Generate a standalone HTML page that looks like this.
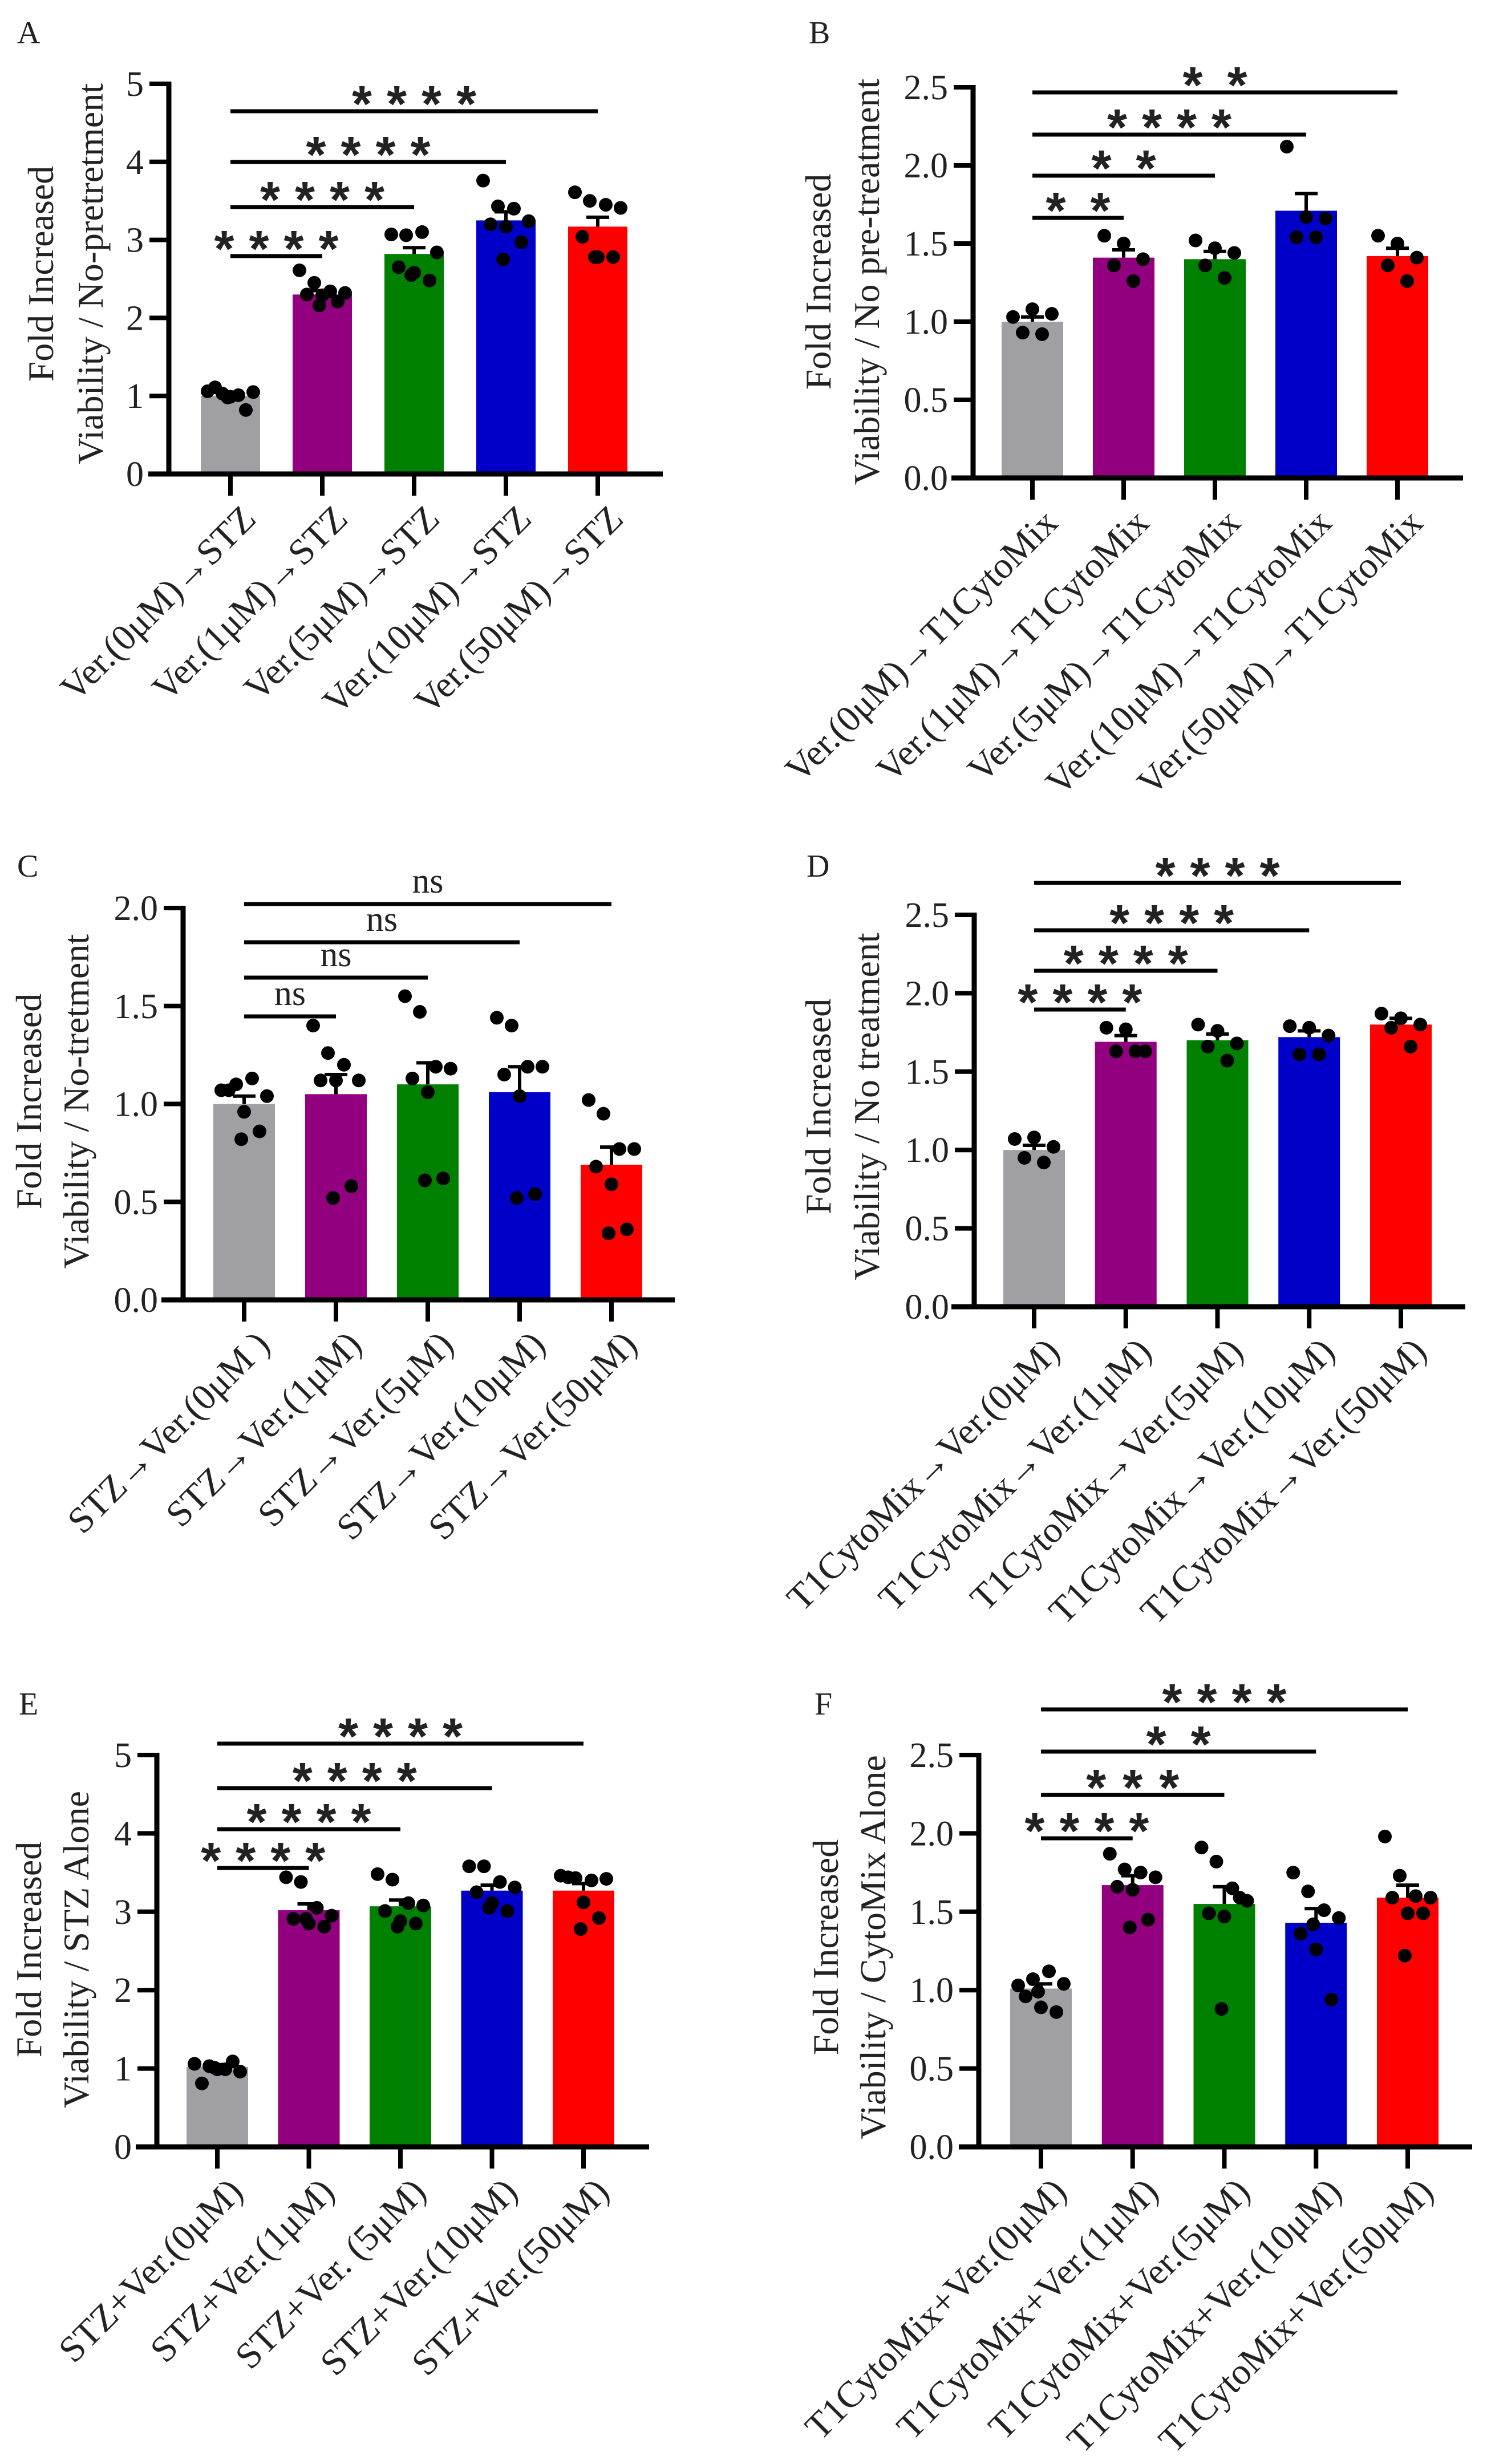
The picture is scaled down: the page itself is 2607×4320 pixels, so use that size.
<!DOCTYPE html>
<html><head><meta charset="utf-8">
<style>
html,body{margin:0;padding:0;background:#fff;}
svg{display:block;}
text{font-family:"Liberation Serif",serif;fill:#222;}
</style></head>
<body>
<svg id="fig" width="2607" height="4320" viewBox="0 0 2607 4320" xmlns="http://www.w3.org/2000/svg"></svg>
<script>
// ---------- DATA ----------
const colors = ["#a0a0a4","#920080","#008000","#0000c8","#ff0000"];

const A_categories = ["Ver.(0μM)→STZ","Ver.(1μM)→STZ","Ver.(5μM)→STZ","Ver.(10μM)→STZ","Ver.(50μM)→STZ"];
const A_means = [1.0, 2.30, 2.82, 3.25, 3.17];
const A_errors = [0.03, 0.05, 0.08, 0.11, 0.12];
const A_points = [
  [1.06,1.03,1.01,1.05,1.11,0.99,0.82,0.98],
  [2.61,2.45,2.34,2.32,2.30,2.29,2.21,2.16],
  [3.07,3.06,3.10,2.84,2.65,2.58,2.48,2.55],
  [3.76,3.43,3.40,3.24,3.20,3.17,2.97,2.75],
  [3.61,3.50,3.45,3.41,3.04,2.78,2.78,2.78]];
const A_ticks = [0,1,2,3,4,5];
const A_sig = ["****","****","****","****"];

const B_categories = ["Ver.(0μM)→T1CytoMix","Ver.(1μM)→T1CytoMix","Ver.(5μM)→T1CytoMix","Ver.(10μM)→T1CytoMix","Ver.(50μM)→T1CytoMix"];
const B_means = [1.0, 1.41, 1.40, 1.71, 1.42];
const B_errors = [0.03, 0.05, 0.05, 0.11, 0.05];
const B_points = [
  [1.03,1.08,1.05,0.93,0.92],
  [1.55,1.50,1.40,1.36,1.26],
  [1.52,1.47,1.44,1.36,1.28],
  [2.12,1.67,1.66,1.54,1.54],
  [1.55,1.50,1.41,1.36,1.26]];
const B_ticks = [0,0.5,1.0,1.5,2.0,2.5];
const B_sig = ["**","**","****","**"];

const C_categories = ["STZ→Ver.(0μM )","STZ→Ver.(1μM)","STZ→Ver.(5μM)","STZ→Ver.(10μM)","STZ→Ver.(50μM)"];
const C_means = [1.0, 1.05, 1.10, 1.06, 0.69];
const C_errors = [0.04, 0.10, 0.11, 0.13, 0.09];
const C_points = [
  [1.07,1.10,1.13,1.04,1.07,0.96,0.86,0.82],
  [1.40,1.26,1.20,1.12,1.12,1.12,0.58,0.52],
  [1.55,1.47,1.19,1.18,1.13,1.06,0.62,0.61],
  [1.44,1.40,1.19,1.19,1.15,1.04,0.54,0.52],
  [1.02,0.95,0.77,0.77,0.68,0.59,0.36,0.34]];
const C_ticks = [0,0.5,1.0,1.5,2.0];
const C_sig = ["ns","ns","ns","ns"];

const D_categories = ["T1CytoMix→Ver.(0μM)","T1CytoMix→Ver.(1μM)","T1CytoMix→Ver.(5μM)","T1CytoMix→Ver.(10μM)","T1CytoMix→Ver.(50μM)"];
const D_means = [1.0, 1.69, 1.70, 1.72, 1.80];
const D_errors = [0.03, 0.04, 0.04, 0.04, 0.04];
const D_points = [
  [1.07,1.08,1.02,0.95,0.92],
  [1.78,1.77,1.63,1.63,1.63],
  [1.80,1.76,1.68,1.66,1.57],
  [1.79,1.78,1.73,1.61,1.61],
  [1.87,1.84,1.80,1.78,1.66]];
const D_ticks = [0,0.5,1.0,1.5,2.0,2.5];
const D_sig = ["****","****","****","****"];

const E_categories = ["STZ+Ver.(0μM)","STZ+Ver.(1μM)","STZ+Ver. (5μM)","STZ+Ver.(10μM)","STZ+Ver.(50μM)"];
const E_means = [1.02, 3.02, 3.07, 3.27, 3.27];
const E_errors = [0.03, 0.08, 0.08, 0.07, 0.09];
const E_points = [
  [1.06,1.03,0.99,0.96,0.81,0.99,1.09,1.01],
  [3.44,3.38,3.05,2.95,2.91,2.85,2.81,2.91],
  [3.48,3.41,3.11,3.08,3.01,2.88,2.85,2.81],
  [3.58,3.58,3.38,3.31,3.25,3.11,3.01,3.05],
  [3.46,3.43,3.40,3.42,3.44,3.12,2.92,2.78]];
const E_ticks = [0,1,2,3,4,5];
const E_sig = ["****","****","****","****"];

const F_categories = ["T1CytoMix+Ver.(0μM)","T1CytoMix+Ver.(1μM)","T1CytoMix+Ver.(5μM)","T1CytoMix+Ver.(10μM)","T1CytoMix+Ver.(50μM)"];
const F_means = [1.01, 1.67, 1.55, 1.43, 1.59];
const F_errors = [0.03, 0.06, 0.11, 0.09, 0.08];
const F_points = [
  [1.03,1.07,1.12,1.04,0.96,0.89,0.86,0.99],
  [1.87,1.77,1.75,1.72,1.66,1.64,1.45,1.40],
  [1.91,1.82,1.65,1.57,1.49,1.47,1.59,0.88],
  [1.75,1.63,1.51,1.46,1.36,1.26,0.94,1.42],
  [1.98,1.73,1.60,1.59,1.59,1.49,1.49,1.22]];
const F_ticks = [0,0.5,1.0,1.5,2.0,2.5];
const F_sig = ["****","***","**","****"];

// ---------- LAYOUT ----------
const NS = "http://www.w3.org/2000/svg";
const svg = document.getElementById("fig");
function mk(tag, attrs, parent){
  const e = document.createElementNS(NS, tag);
  for (const k in attrs) e.setAttribute(k, attrs[k]);
  (parent||svg).appendChild(e);
  return e;
}
const jit8 = [-40,-14,14,40,-27,0,27,-5];
const jit5 = [-34,0,34,-17,17];

function panel(L, cats, means, errs, pts, ticks, sig){
  const g = mk("g", {});
  
  
  const yMax = ticks[ticks.length-1];
  const yS = v => L.y0 - (v / yMax) * (L.y0 - L.yTop);
  const xS = i => L.c0 + L.step * i;

  const letter = mk("text", {x:L.lx, y:L.ly, "font-size":56}, g);
  letter.textContent = L.id;
  
  

  // bars
  for (let i=0;i<means.length;i++){
    const r = mk("rect", {x:xS(i)-L.bw/2, y:yS(means[i]), width:L.bw, height:L.y0-yS(means[i]), fill:colors[i]}, g);
    
    
  }
  // error bars
  for (let i=0;i<means.length;i++){
    const yt = yS(means[i]+errs[i]);
    const eb = mk("path", {d:`M${xS(i)} ${yS(means[i])}V${yt}M${xS(i)-20} ${yt}H${xS(i)+20}`, stroke:"#000", "stroke-width":6, fill:"none"}, g);
    
    
  }
  // dots
  for (let i=0;i<pts.length;i++){
    const jit = pts[i].length>5 ? jit8 : jit5;
    for (let j=0;j<pts[i].length;j++){
      const c = mk("circle", {cx:xS(i)+jit[j], cy:yS(pts[i][j]), r:12, fill:"#000"}, g);
      
      
    }
  }
  // axes
  const ya = mk("line", {x1:L.ax, y1:L.yTop-4, x2:L.ax, y2:L.y0, stroke:"#000", "stroke-width":9}, g);
  
  
  const xa = mk("line", {x1:L.xa0, y1:L.y0, x2:L.xa1, y2:L.y0, stroke:"#000", "stroke-width":9}, g);
  
  
  for (const t of ticks){
    const tk = mk("line", {x1:L.ax-34, y1:yS(t), x2:L.ax, y2:yS(t), stroke:"#000", "stroke-width":8}, g);
    
    
    const tl = mk("text", {x:L.ax-44, y:yS(t)+21, "font-size":62, "text-anchor":"end", fill:"#333"}, g);
    tl.textContent = L.dec ? t.toFixed(1) : String(t);
    
    
  }
  for (let i=0;i<cats.length;i++){
    const tk = mk("line", {x1:xS(i), y1:L.y0, x2:xS(i), y2:L.y0+38, stroke:"#000", "stroke-width":8}, g);
    
    
    const ax = xS(i)+48, ay = L.y0+82;
    const tl = mk("text", {x:ax, y:ay, "font-size":65, "text-anchor":"end", transform:`rotate(-45 ${ax} ${ay})`, fill:"#333"}, g);
    tl.textContent = cats[i];
    
    
  }
  // y title
  const tcy = L.tcy;
  const t1 = mk("text", {x:L.t1x+22, y:tcy, "font-size":64, "text-anchor":"middle", transform:`rotate(-90 ${L.t1x+22} ${tcy})`, fill:"#333"}, g);
  t1.textContent = "Fold Increased";
  
  
  const t2 = mk("text", {x:L.t2x+22, y:tcy, "font-size":64, "text-anchor":"middle", transform:`rotate(-90 ${L.t2x+22} ${tcy})`, fill:"#333"}, g);
  t2.textContent = L.title2;
  
  

  // significance brackets (comparison of bar 0 vs bar k+1)
  for (let k=0;k<sig.length;k++){
    const by = L.brY[k];
    const x0 = xS(0), x1 = xS(k+1);
    const bl = mk("line", {x1:x0, y1:by, x2:x1, y2:by, stroke:"#000", "stroke-width":7}, g);
    
    
    const mid = (x0+x1)/2;
    const s = sig[k];
    if (s === "ns"){
      const t = mk("text", {x:mid, y:by-20, "font-size":62, "text-anchor":"middle", fill:"#333"}, g);
      t.textContent = "ns";
      
      
    } else {
      const n = s.length;
      const sp = n===2 ? 78 : (n===3 ? 64 : 61);
      const st = mk("text", {x:mid, y:by-34+52, "font-size":90, "text-anchor":"middle", "font-weight":"bold", fill:"#111", style:"font-family:'Liberation Sans',sans-serif"}, g);
      
      
      for (let q=0;q<n;q++){
        const ts = mk("tspan", {x:mid + (q-(n-1)/2)*sp}, st);
        ts.textContent = "*";
      }
    }
  }
}

panel({id:"A", lx:30, ly:76, ax:296, y0:831, yTop:147, xa0:260, xa1:1162, c0:404, step:161, bw:104, dec:false,
  t1x:71, t2x:158, tcy:480, title2:"Viability / No-pretretment", brY:[449,363,284,195]},
  A_categories, A_means, A_errors, A_points, A_ticks, A_sig);
panel({id:"B", lx:1418, ly:76, ax:1706, y0:838, yTop:153, xa0:1668, xa1:2565, c0:1810, step:160, bw:108, dec:true,
  t1x:1434, t2x:1519, tcy:494, title2:"Viability / No pre-treatment", brY:[382,308,236,162]},
  B_categories, B_means, B_errors, B_points, B_ticks, B_sig);
panel({id:"C", lx:30, ly:1537, ax:321, y0:2279, yTop:1592, xa0:283, xa1:1183, c0:428, step:161, bw:108, dec:true,
  t1x:50, t2x:133, tcy:1931, title2:"Viability / No-tretment", brY:[1782,1714,1652,1585]},
  C_categories, C_means, C_errors, C_points, C_ticks, C_sig);
panel({id:"D", lx:1414, ly:1537, ax:1708, y0:2291, yTop:1604, xa0:1668, xa1:2569, c0:1813, step:160.75, bw:108, dec:true,
  t1x:1434, t2x:1519, tcy:1940, title2:"Viability / No treatment", brY:[1770,1702,1631,1548]},
  D_categories, D_means, D_errors, D_points, D_ticks, D_sig);
panel({id:"E", lx:33, ly:3006, ax:275, y0:3764, yTop:3077, xa0:238, xa1:1138, c0:381, step:160.5, bw:108, dec:false,
  t1x:50, t2x:133, tcy:3418, title2:"Viability / STZ Alone", brY:[3275,3207,3135,3057]},
  E_categories, E_means, E_errors, E_points, E_ticks, E_sig);
panel({id:"F", lx:1428, ly:3006, ax:1716, y0:3764, yTop:3077, xa0:1681, xa1:2581, c0:1825, step:160.75, bw:108, dec:true,
  t1x:1447, t2x:1530, tcy:3414, title2:"Viability / CytoMix Alone", brY:[3223,3147,3071,2997]},
  F_categories, F_means, F_errors, F_points, F_ticks, F_sig);
</script>
</body></html>
